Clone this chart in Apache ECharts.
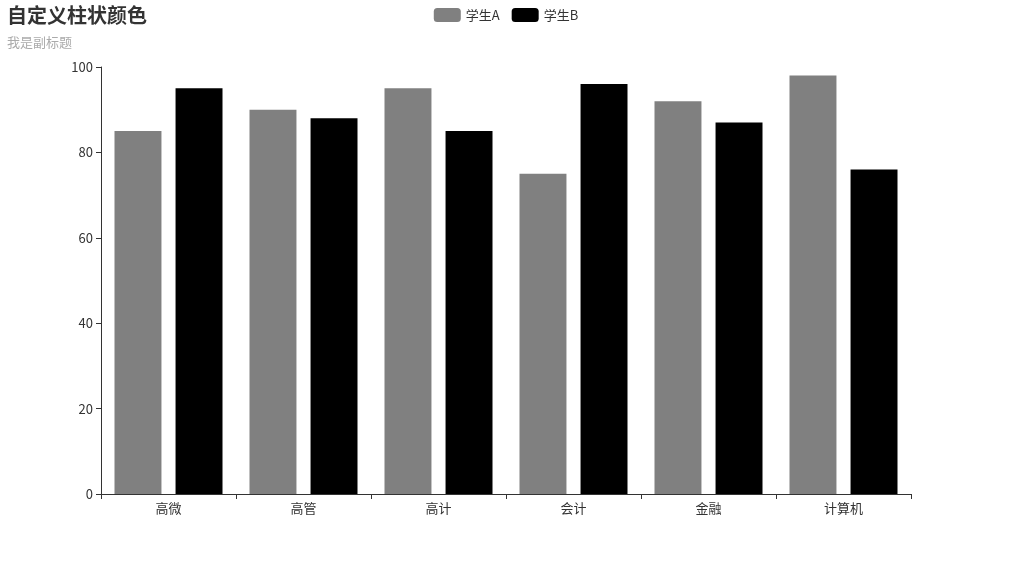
<!DOCTYPE html>
<html><head><meta charset="utf-8">
<script src="https://cdn.jsdelivr.net/npm/echarts@6/dist/echarts.min.js"></script>
<style>html,body{margin:0;padding:0;background:#fff}#c{width:1012px;height:562px}</style>
</head><body><div id="c"></div>
<script>
const categories = ['高微', '高管', '高计', '会计', '金融', '计算机'];
const studentA = [85, 90, 95, 75, 92, 98];
const studentB = [95, 88, 85, 96, 87, 76];
const yTicks = { min: 0, max: 100, interval: 20 };

const font = '"Noto Sans CJK SC", "Microsoft YaHei", sans-serif';
const chart = echarts.init(document.getElementById('c'));
chart.setOption({
  animation: false,
  textStyle: { fontFamily: font },
  title: {
    text: '自定义柱状颜色', subtext: '我是副标题', left: 2, top: 0,
    itemGap: 11,
    textStyle: { fontSize: 20, fontWeight: 'bold', color: '#333', fontFamily: font },
    subtextStyle: { fontSize: 13, color: '#aaa', fontFamily: font }
  },
  legend: {
    top: 3, left: 'center', itemWidth: 27, itemHeight: 14, itemGap: 12,
    textStyle: { fontSize: 13, color: '#333', fontFamily: font },
    data: ['学生A', '学生B']
  },
  grid: { left: 101, right: 101, top: 67, bottom: 68, containLabel: false },
  xAxis: {
    type: 'category', data: categories,
    axisLine: { show: true, lineStyle: { color: '#333' } },
    axisTick: { show: true, alignWithLabel: false },
    axisLabel: { color: '#333', fontSize: 13, margin: 8 },
    splitLine: { show: false }
  },
  yAxis: {
    type: 'value', min: yTicks.min, max: yTicks.max, interval: yTicks.interval,
    axisLine: { show: true, lineStyle: { color: '#333' } },
    axisTick: { show: true },
    axisLabel: { color: '#333', fontSize: 13, margin: 8 },
    splitLine: { show: false }
  },
  series: [
    { name: '学生A', type: 'bar', data: studentA, barGap: '30%', barCategoryGap: '20%', itemStyle: { color: '#808080' } },
    { name: '学生B', type: 'bar', data: studentB, barGap: '30%', barCategoryGap: '20%', itemStyle: { color: '#000000' } }
  ]
});
</script></body></html>
